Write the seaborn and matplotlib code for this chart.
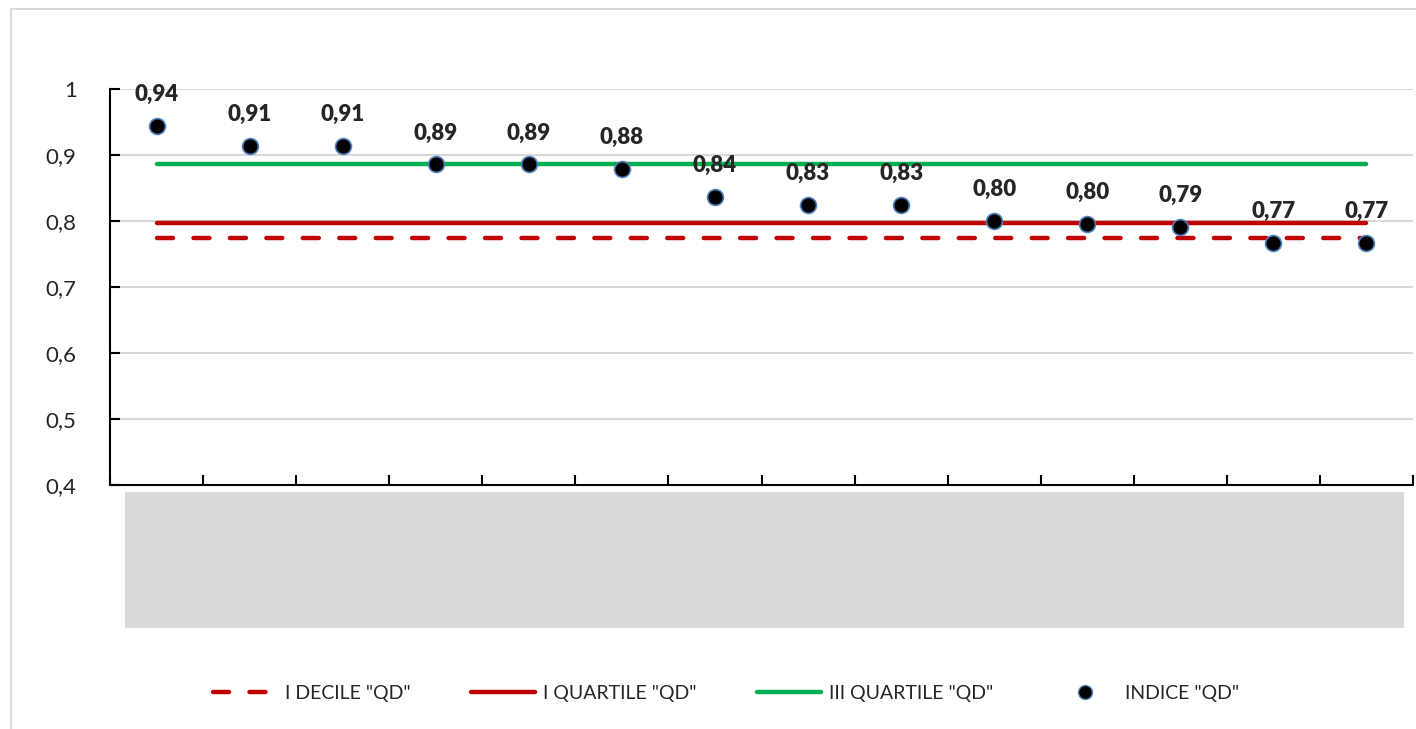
import numpy as np
import pandas as pd
import matplotlib.pyplot as plt
import matplotlib.patches as mpatches
from matplotlib.lines import Line2D
import seaborn as sns

# ================== DATA ==================
categories = [str(i) for i in range(1, 15)]
indice_qd = [0.944, 0.914, 0.914, 0.886, 0.886, 0.879, 0.837,
             0.825, 0.825, 0.800, 0.796, 0.791, 0.767, 0.767]
indice_labels = ["0,94", "0,91", "0,91", "0,89", "0,89", "0,88", "0,84",
                 "0,83", "0,83", "0,80", "0,80", "0,79", "0,77", "0,77"]
decile_1 = 0.775
quartile_1 = 0.797
quartile_3 = 0.887
y_ticks = [0.4, 0.5, 0.6, 0.7, 0.8, 0.9, 1.0]
y_tick_labels = ["0,4", "0,5", "0,6", "0,7", "0,8", "0,9", "1"]

df = pd.DataFrame({
    "cat": categories,
    "pos": np.arange(len(categories)),
    "indice": indice_qd,
    "decile": [decile_1] * len(categories),
    "q1": [quartile_1] * len(categories),
    "q3": [quartile_3] * len(categories),
})

# ================== STYLE ==================
sns.set_style("white")
plt.rcParams["font.family"] = ["Lato", "DejaVu Sans"]

RED = "#C00000"
GREEN = "#00B050"
GRID = "#D9D9D9"

fig = plt.figure(figsize=(14.16, 7.29), dpi=100)
ax = fig.add_axes([110 / 1416, 1 - 485 / 729, 1303 / 1416, 396 / 729])

# outer frame and hidden category label box
fig.patches.append(mpatches.Rectangle((11 / 1416, -0.01), 1.0, 1 - 9 / 729 + 0.01,
                                      transform=fig.transFigure, fill=False,
                                      edgecolor=GRID, linewidth=1.5, zorder=0))
fig.patches.append(mpatches.Rectangle((125 / 1416, 1 - 628 / 729), 1279 / 1416, 136 / 729,
                                      transform=fig.transFigure, facecolor=GRID,
                                      edgecolor="none", zorder=0))

# ---- lines ----
sns.lineplot(data=df, x="pos", y="decile", ax=ax, color=RED, linewidth=3.2)
ax.lines[-1].set_dashes([3.6, 4.6])
ax.lines[-1].set_dash_capstyle("round")
sns.lineplot(data=df, x="pos", y="q1", ax=ax, color=RED, linewidth=3.2,
             solid_capstyle="round")
sns.lineplot(data=df, x="pos", y="q3", ax=ax, color=GREEN, linewidth=3.2,
             solid_capstyle="round")

# ---- points ----
sns.scatterplot(data=df, x="pos", y="indice", ax=ax, color="black", s=130,
                edgecolor="#4F81BD", linewidth=1.2, zorder=5)

for x, y, lab in zip(df["pos"], df["indice"], indice_labels):
    ax.annotate(lab, (x, y), xytext=(0, 15), textcoords="offset points",
                ha="center", va="bottom", fontsize=16, fontweight="heavy")

# ---- axes ----
ax.set_xlim(-0.5, len(categories) - 0.5)
ax.set_ylim(0.4, 1.0)
ax.set_yticks(y_ticks)
ax.set_yticklabels(y_tick_labels, fontsize=16)
ax.set_xticks(np.arange(-0.5, len(categories), 1.0))
ax.set_xticklabels([])
ax.tick_params(axis="both", direction="in", length=7, width=1.5, color="black",
               left=True, bottom=True)
ax.tick_params(axis="y", pad=24)
ax.yaxis.grid(True, color=GRID, linewidth=1.5)
ax.set_axisbelow(True)
ax.set_xlabel("")
ax.set_ylabel("")
for side in ["top", "right"]:
    ax.spines[side].set_visible(False)
for side in ["left", "bottom"]:
    ax.spines[side].set_color("black")
    ax.spines[side].set_linewidth(1.5)

# ---- legend ----
handles = [
    Line2D([0], [0], color=RED, linewidth=3.2, dashes=[3.6, 4.6], dash_capstyle="round"),
    Line2D([0], [0], color=RED, linewidth=3.2, solid_capstyle="round"),
    Line2D([0], [0], color=GREEN, linewidth=3.2, solid_capstyle="round"),
    Line2D([0], [0], color="black", marker="o", linestyle="none", markersize=10,
           markeredgecolor="#4F81BD"),
]
labels = ['I DECILE "QD"', 'I QUARTILE "QD"', 'III QUARTILE "QD"', 'INDICE "QD"']
fig.legend(handles, labels, loc="center", bbox_to_anchor=(0.513, 1 - 693 / 729),
           ncol=4, frameon=False, fontsize=14, handlelength=3.3,
           columnspacing=3.1, handletextpad=0.4)

fig.savefig("out.png", dpi=100)
